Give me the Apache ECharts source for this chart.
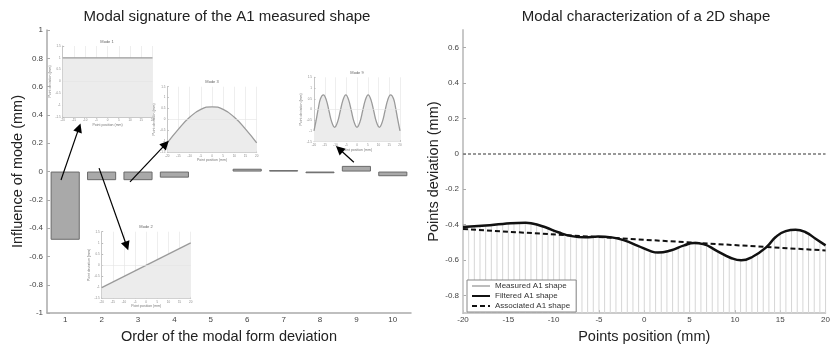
<!DOCTYPE html>
<html>
<head>
<meta charset="utf-8">
<script src="https://cdn.jsdelivr.net/npm/echarts@6/dist/echarts.min.js"></script>
<style>
  html, body { margin: 0; padding: 0; background: #fff; }
  #chart { width: 833px; height: 349px; }
</style>
</head>
<body>
<div id="chart"></div>
<script>
// left panel: influence of each mode
const modeOrders = ['1', '2', '3', '4', '5', '6', '7', '8', '9', '10'];
const modeInfluence = [-0.482, -0.061, -0.061, -0.043, null, 0.02, 0.01, -0.012, 0.04, -0.033];

// arrows from bars to insets, in (order, mm) units
const arrowFrom = [[0.885, -0.06], [1.93, 0.024], [2.78, -0.073], [8.93, 0.066]];
const arrowTo = [[1.38, 0.31], [2.69, -0.526], [3.76, 0.194], [8.53, 0.159]];

// inset mode shapes
const mode1X = [-20, 20];
const mode1Y = [1, 1];
const mode2X = [-20, 20];
const mode2Y = [-1.02, 1.0];
const mode3X = [-20, -15, -10, -5, 0, 5, 10, 15, 20];
const mode3Y = [-1.07, -0.44, 0.1, 0.46, 0.58, 0.46, 0.1, -0.44, -1.07];
const mode9X = [-20, -19, -18, -17, -15.6, -14.3, -13, -11.7, -10.4, -9.1, -7.8, -6.5, -5.2, -3.9, -2.6, -1.3, 0,
  1.3, 2.6, 3.9, 5.2, 6.5, 7.8, 9.1, 10.4, 11.7, 13, 14.3, 15.6, 17, 18, 19, 20];
const mode9Y = [-1.0, -0.5, 0.05, 0.5, 0.68, 0.45, -0.08, -0.6, -0.83, -0.6, -0.08, 0.45, 0.68, 0.45, -0.08, -0.6, -0.83,
  -0.6, -0.08, 0.45, 0.68, 0.45, -0.08, -0.6, -0.83, -0.6, -0.08, 0.45, 0.68, 0.5, 0.05, -0.5, -1.0];

// right panel: 2D shape
const filteredX = [-20, -17.5, -15.6, -13.1, -12.5, -10.9, -9.5, -8, -6.5, -5.1, -3.6, -2.2, -0.7, 0.7, 1.5,
  2.9, 4.4, 5.5, 6.5, 8, 9.5, 10.7, 12, 13.5, 14.5, 15.6, 16.7, 17.8, 18.9, 20];
const filteredY = [-0.413, -0.405, -0.396, -0.389, -0.392, -0.415, -0.443, -0.465, -0.472, -0.467, -0.472, -0.489,
  -0.52, -0.55, -0.558, -0.546, -0.517, -0.504, -0.51, -0.548, -0.587, -0.602, -0.58, -0.526, -0.47, -0.437,
  -0.429, -0.443, -0.48, -0.517];
const associatedX = [-20, 20];
const associatedY = [-0.425, -0.546];
const measuredX = [-20, -19.375, -18.75, -18.125, -17.5, -16.875, -16.25, -15.625, -15, -14.375, -13.75, -13.125,
  -12.5, -11.875, -11.25, -10.625, -10, -9.375, -8.75, -8.125, -7.5, -6.875, -6.25, -5.625, -5, -4.375, -3.75,
  -3.125, -2.5, -1.875, -1.25, -0.625, 0, 0.625, 1.25, 1.875, 2.5, 3.125, 3.75, 4.375, 5, 5.625, 6.25, 6.875,
  7.5, 8.125, 8.75, 9.375, 10, 10.625, 11.25, 11.875, 12.5, 13.125, 13.75, 14.375, 15, 15.625, 16.25, 16.875,
  17.5, 18.125, 18.75, 19.375, 20];
const measuredY = [-0.415, -0.41, -0.41, -0.406, -0.405, -0.403, -0.398, -0.397, -0.393, -0.393, -0.389, -0.39,
  -0.392, -0.4, -0.407, -0.421, -0.432, -0.446, -0.454, -0.464, -0.467, -0.472, -0.471, -0.47, -0.466, -0.469,
  -0.47, -0.478, -0.484, -0.496, -0.506, -0.522, -0.534, -0.548, -0.555, -0.557, -0.549, -0.542, -0.528,
  -0.518, -0.507, -0.505, -0.506, -0.518, -0.532, -0.552, -0.567, -0.585, -0.595, -0.603, -0.596, -0.584,
  -0.561, -0.538, -0.507, -0.48, -0.454, -0.439, -0.429, -0.43, -0.436, -0.453, -0.473, -0.497, -0.516];

const rightYMin = -0.9;
const rightYMax = 0.7;

const FONT = 'Liberation Sans, Arial, sans-serif';
const pair = (xs, ys) => xs.map((x, i) => [x, ys[i]]);

const chart = echarts.init(document.getElementById('chart'));

const mainAxisLine = { onZero: false, lineStyle: { color: '#aaa', width: 1.5 } };
const mainLabel = { fontSize: 8, color: '#444', fontFamily: FONT };
const mainName = { fontSize: 14.5, color: '#222', fontFamily: FONT };

function insetGrid(left, top, width, height) {
  return { left, top, width, height };
}

function insetXAxis(gridIndex) {
  return {
    type: 'value', gridIndex, min: -20, max: 20, interval: 5,
    name: 'Point position (mm)', nameLocation: 'middle', nameGap: 6,
    nameTextStyle: { fontSize: 3.5, color: '#777', fontFamily: FONT },
    axisLine: { onZero: false, lineStyle: { color: '#bbb', width: 0.8 } },
    axisTick: { inside: true, length: 1.5, lineStyle: { color: '#bbb' } },
    axisLabel: { fontSize: 3, color: '#888', margin: 2, fontFamily: FONT },
    splitLine: { show: true, lineStyle: { color: '#e2e2e2', width: 0.6 } }
  };
}

function insetYAxis(gridIndex) {
  return {
    type: 'value', gridIndex, min: -1.5, max: 1.5, interval: 0.5,
    name: 'Point deviation (mm)', nameLocation: 'middle', nameGap: 6,
    nameTextStyle: { fontSize: 3.5, color: '#777', fontFamily: FONT },
    axisLine: { show: true, onZero: false, lineStyle: { color: '#bbb', width: 0.8 } },
    axisTick: { show: true, inside: true, length: 1.5, lineStyle: { color: '#bbb' } },
    axisLabel: { fontSize: 3, color: '#888', margin: 2, fontFamily: FONT },
    splitLine: { show: false }
  };
}

function insetSeries(idx, xs, ys, smooth) {
  return {
    type: 'line', xAxisIndex: idx + 3, yAxisIndex: idx + 2,
    data: pair(xs, ys), symbol: 'none', smooth, silent: true,
    lineStyle: { color: '#9a9a9a', width: 1.3 },
    areaStyle: { color: '#ececec', opacity: 1, origin: 'start' },
    markLine: {
      silent: true, symbol: 'none', label: { show: false },
      lineStyle: { color: '#e4e4e4', width: 0.6, type: 'solid' },
      data: [{ yAxis: 0 }]
    }
  };
}

function insetTitle(text, x, y) {
  return {
    text, left: x, top: y, textAlign: 'center', padding: 0,
    textStyle: { fontSize: 4, fontWeight: 'normal', color: '#666', fontFamily: FONT }
  };
}

const option = {
  animation: false,
  backgroundColor: '#fff',
  title: [
    { text: 'Modal signature of the A1 measured shape', left: 227, top: 9, textAlign: 'center', padding: 0,
      textStyle: { fontSize: 15, fontWeight: 'normal', color: '#222', fontFamily: FONT } },
    { text: 'Modal characterization of a 2D shape', left: 646, top: 9, textAlign: 'center', padding: 0,
      textStyle: { fontSize: 15, fontWeight: 'normal', color: '#222', fontFamily: FONT } },
    insetTitle('Mode 1', 107, 40),
    insetTitle('Mode 3', 212, 80),
    insetTitle('Mode 9', 357, 71),
    insetTitle('Mode 2', 146, 225)
  ],
  legend: {
    data: ['Measured A1 shape', 'Filtered A1 shape', 'Associated A1 shape'],
    orient: 'vertical', left: 467, top: 280,
    itemWidth: 18, itemHeight: 6, itemGap: 2,
    padding: [2, 6, 2, 4],
    borderColor: '#888', borderWidth: 1, backgroundColor: '#fff',
    itemStyle: { opacity: 0 },
    textStyle: { fontSize: 8, color: '#333', fontFamily: FONT }
  },
  grid: [
    { left: 47, right: 422, top: 30, bottom: 32 },
    { left: 463, right: 3, top: 30, bottom: 32 },
    insetGrid(62.7, 46, 89.8, 71),
    insetGrid(167.3, 86.7, 89.4, 65.6),
    insetGrid(314, 77.3, 86, 64.4),
    insetGrid(101.7, 231.7, 89, 66.6)
  ],
  xAxis: [
    {
      type: 'category', gridIndex: 0, data: modeOrders,
      name: 'Order of the modal form deviation', nameLocation: 'middle', nameGap: 13,
      nameTextStyle: mainName,
      axisLine: mainAxisLine,
      axisTick: { inside: true, alignWithLabel: true, length: 3, lineStyle: { color: '#aaa' } },
      axisLabel: Object.assign({ margin: 3 }, mainLabel)
    },
    { type: 'value', gridIndex: 0, min: 0.5, max: 10.5, show: false },
    {
      type: 'value', gridIndex: 1, min: -20, max: 20, interval: 5,
      name: 'Points position (mm)', nameLocation: 'middle', nameGap: 13,
      nameTextStyle: mainName,
      axisLine: { onZero: false, lineStyle: { color: '#bbb', width: 1.5 } },
      axisTick: { inside: true, length: 3, lineStyle: { color: '#aaa' } },
      axisLabel: Object.assign({ margin: 3 }, mainLabel),
      splitLine: { show: false }
    },
    insetXAxis(2), insetXAxis(3), insetXAxis(4), insetXAxis(5)
  ],
  yAxis: [
    {
      type: 'value', gridIndex: 0, min: -1, max: 1, interval: 0.2,
      name: 'Influence of mode (mm)', nameLocation: 'middle', nameGap: 21,
      nameTextStyle: mainName,
      axisLine: Object.assign({ show: true }, mainAxisLine),
      axisTick: { show: true, inside: true, length: 3, lineStyle: { color: '#aaa' } },
      axisLabel: Object.assign({ margin: 4 }, mainLabel),
      splitLine: { show: false }
    },
    {
      type: 'value', gridIndex: 1, min: rightYMin, max: rightYMax, splitNumber: 8,
      name: 'Points deviation (mm)', nameLocation: 'middle', nameGap: 22,
      nameTextStyle: mainName,
      axisLine: { show: true, onZero: false, lineStyle: { color: '#c8c8c8', width: 2 } },
      axisTick: { show: true, inside: true, length: 3, lineStyle: { color: '#aaa' } },
      axisLabel: Object.assign({ margin: 4, showMinLabel: false, showMaxLabel: false }, mainLabel),
      splitLine: { show: false }
    },
    insetYAxis(2), insetYAxis(3), insetYAxis(4), insetYAxis(5)
  ],
  series: [
    {
      type: 'bar', xAxisIndex: 0, yAxisIndex: 0, data: modeInfluence,
      barWidth: '80%', silent: true,
      itemStyle: { color: '#a9a9a9', borderColor: '#6a6a6a', borderWidth: 1 }
    },
    insetSeries(0, mode1X, mode1Y, false),
    insetSeries(1, mode3X, mode3Y, true),
    insetSeries(2, mode9X, mode9Y, 0.4),
    insetSeries(3, mode2X, mode2Y, false),
    {
      type: 'lines', coordinateSystem: 'cartesian2d', xAxisIndex: 1, yAxisIndex: 0,
      silent: true, z: 10,
      symbol: ['none', 'triangle'], symbolSize: 9,
      lineStyle: { color: '#000', width: 1.2, opacity: 1 },
      data: arrowFrom.map((p, i) => ({ coords: [p, arrowTo[i]] }))
    },
    {
      type: 'custom', xAxisIndex: 2, yAxisIndex: 1, silent: true, z: 1,
      data: pair(measuredX, measuredY),
      renderItem: (params, api) => {
        const top = api.coord([api.value(0), api.value(1)]);
        const bottom = api.coord([api.value(0), rightYMin]);
        return {
          type: 'line',
          shape: { x1: top[0], y1: top[1], x2: bottom[0], y2: bottom[1] },
          style: { stroke: '#d6d6d6', lineWidth: 1 }
        };
      }
    },
    {
      name: 'Measured A1 shape', type: 'line', xAxisIndex: 2, yAxisIndex: 1,
      data: pair(measuredX, measuredY), symbol: 'none', silent: true, z: 2,
      lineStyle: { color: '#bdbdbd', width: 1 },
      itemStyle: { color: '#bdbdbd' }
    },
    {
      name: 'Filtered A1 shape', type: 'line', xAxisIndex: 2, yAxisIndex: 1,
      data: pair(filteredX, filteredY), symbol: 'none', smooth: 0.5, silent: true, z: 4,
      lineStyle: { color: '#111', width: 2.5 },
      itemStyle: { color: '#111' },
      markLine: {
        silent: true, symbol: 'none', label: { show: false },
        lineStyle: { color: '#777', width: 1.5, type: [3, 2] },
        data: [{ yAxis: 0 }]
      }
    },
    {
      name: 'Associated A1 shape', type: 'line', xAxisIndex: 2, yAxisIndex: 1,
      data: pair(associatedX, associatedY), symbol: 'none', silent: true, z: 3,
      lineStyle: { color: '#111', width: 2, type: [5, 3] },
      itemStyle: { color: '#111' }
    }
  ]
};

chart.setOption(option);
</script>
</body>
</html>
